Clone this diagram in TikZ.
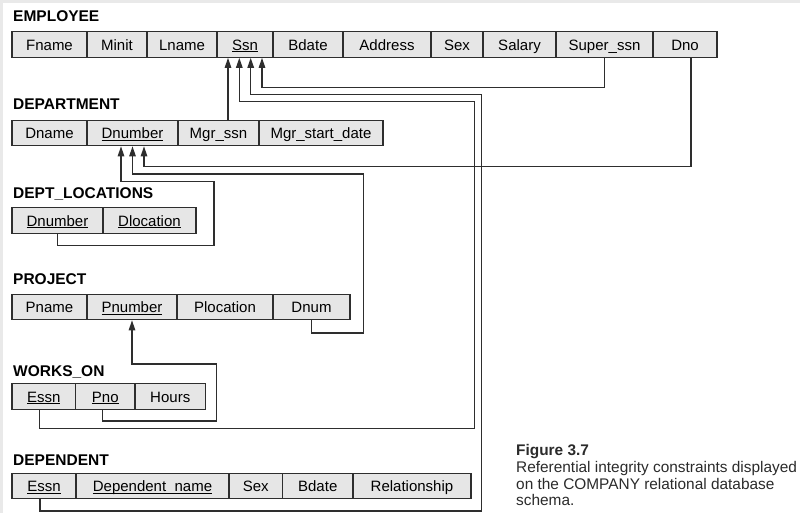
\documentclass[tikz,border=0pt]{standalone}
\usepackage{fontspec}
\setmainfont{Liberation Sans}
\usetikzlibrary{arrows.meta,calc}
\definecolor{cellGray}{HTML}{E6E6E6}
\definecolor{lineDark}{HTML}{2E2E2E}
\definecolor{frameGray}{HTML}{E9E9E9}
\definecolor{capText}{HTML}{2B2B2B}
\newcommand{\pk}[1]{\underline{\smash{#1}}}

\begin{document}
\begin{tikzpicture}[x=1pt,y=-1pt,
  cell/.style={draw=lineDark,fill=cellGray,line width=1.2pt,minimum height=25.5pt,inner sep=0pt,
    text height=12.5pt,text depth=1pt,font=\fontsize{15}{18}\selectfont},
  tbl/.style={anchor=base west,inner sep=0pt,font=\bfseries\fontsize{15.5}{18}\selectfont},
  fk/.style={draw=lineDark,line width=1.3pt,-{Triangle[length=10pt,width=6.5pt]}}]
\fill[frameGray] (0,0) rectangle (800,513);
\fill[white] (3,3.5) rectangle (800,513);
\useasboundingbox (0,0) rectangle (800,513);

\node[tbl] (empT) at (13,21.7) {EMPLOYEE};
\node[cell,minimum width=75] (e1) at (49.5,44.5) {Fname};
\node[cell,minimum width=60] (e2) at (117,44.5) {Minit};
\node[cell,minimum width=70] (e3) at (182,44.5) {Lname};
\node[cell,minimum width=56] (e4) at (245,44.5) {\pk{Ssn}};
\node[cell,minimum width=70] (e5) at (308,44.5) {Bdate};
\node[cell,minimum width=88] (e6) at (387,44.5) {Address};
\node[cell,minimum width=52] (e7) at (457,44.5) {Sex};
\node[cell,minimum width=73] (e8) at (519.5,44.5) {Salary};
\node[cell,minimum width=97] (e9) at (604.5,44.5) {Super\_ssn};
\node[cell,minimum width=64] (e10) at (685,44.5) {Dno};

\node[tbl] (deptT) at (13,110) {DEPARTMENT};
\node[cell,minimum width=75] (d1) at (49.5,133) {Dname};
\node[cell,minimum width=91] (d2) at (132.5,133) {\pk{Dnumber}};
\node[cell,minimum width=81] (d3) at (218.5,133) {Mgr\_ssn};
\node[cell,minimum width=124] (d4) at (321,133) {Mgr\_start\_date};

\node[tbl] (locT) at (13,198.3) {DEPT\_LOCATIONS};
\node[cell,minimum width=91] (l1) at (57.5,220.5) {\pk{Dnumber}};
\node[cell,minimum width=93] (l2) at (149.5,220.5) {\pk{Dlocation}};

\node[tbl] (projT) at (13,284.3) {PROJECT};
\node[cell,minimum width=75] (p1) at (49.5,307) {Pname};
\node[cell,minimum width=90] (p2) at (132,307) {\pk{Pnumber}};
\node[cell,minimum width=96] (p3) at (225,307) {Plocation};
\node[cell,minimum width=77] (p4) at (311.5,307) {Dnum};

\node[tbl] (workT) at (13,376) {WORKS\_ON};
\node[cell,minimum width=63.5] (w1) at (43.75,396.5) {\pk{Essn}};
\node[cell,minimum width=59.5] (w2) at (105.25,396.5) {\pk{Pno}};
\node[cell,minimum width=70.5] (w3) at (170.25,396.5) {Hours};

\node[tbl] (depT) at (13,465) {DEPENDENT};
\node[cell,minimum width=64] (dp1) at (44,486) {\pk{Essn}};
\node[cell,minimum width=153] (dp2) at (152.5,486) {\pk{Dependent\_name}};
\node[cell,minimum width=53.5] (dp3) at (255.75,486) {Sex};
\node[cell,minimum width=70.5] (dp4) at (317.75,486) {Bdate};
\node[cell,minimum width=118] (dp5) at (412,486) {Relationship};

\coordinate (s1) at ($(e4.south)+(-17,0)$);
\coordinate (s2) at ($(e4.south)+(-5.7,0)$);
\coordinate (s3) at ($(e4.south)+(5.7,0)$);
\coordinate (s4) at ($(e4.south)+(17,0)$);
\coordinate (n1) at ($(d2.south)+(-11.5,0)$);
\coordinate (n2) at (d2.south);
\coordinate (n3) at ($(d2.south)+(11.5,0)$);

\draw[fk] (s1 |- d3.north) -- (s1);
\draw[fk] (e9.south) -- ++(0,29.5) -| (s4);
\draw[fk] ([xshift=-4pt]dp1.south) -- ++(0,11.5) -| (481.7,94.3) -| (s3);
\draw[fk] ([xshift=-4pt]w1.south) -- ++(0,18.5) -| (474.3,101.7) -| (s2);
\draw[fk] ([xshift=6pt]e10.south) -- ++(0,108.5) -| (n3);
\draw[fk] (p4.south) -- ++(0,12.5) -| (363.3,174) -| (n2);
\draw[fk] (l1.south) -- ++(0,11.5) -| (214,181.7) -| (n1);
\draw[fk] ([xshift=-3pt]w2.south) -- ++(0,11) -| (216.7,364) -| (p2.south);

\node[anchor=north west,align=left,inner sep=0pt,text=capText,
  font=\fontsize{15.4}{16.7}\selectfont] (cap) at (516,444.5)
  {{\bfseries Figure 3.7}\\Referential integrity constraints displayed\\on the COMPANY relational database\\schema.};
\end{tikzpicture}
\end{document}
